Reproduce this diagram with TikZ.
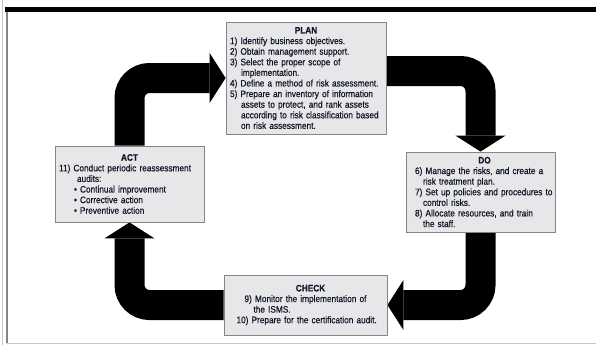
\documentclass[tikz,border=0pt]{standalone}
\usepackage{fontspec}
\setmainfont{Liberation Sans}[FakeStretch=0.88,FakeBold=0.4]
\usetikzlibrary{arrows.meta,backgrounds}
\definecolor{ismsInk}{HTML}{141428}
\definecolor{ismsFill}{HTML}{E6E7E9}
\definecolor{ismsEdge}{HTML}{858585}
\definecolor{ismsRule}{HTML}{C8C8C8}
\newcommand{\pdcaHead}[1]{\makebox[\dimexpr\linewidth-\leftskip\relax]{\bfseries #1}}
\tikzset{
  pdcaBox/.style={
    draw=ismsEdge,
    fill=ismsFill,
    line width=0.8pt,
    text=ismsInk,
    align=left,
    inner xsep=0pt,
    inner ysep=2pt,
    font=\fontsize{9.4}{10.6}\selectfont
  },
  pdcaIndent/.style={execute at begin node={\leftskip=#1}},
  pdcaArrow/.style={
    line width=30pt,
    rounded corners=20pt,
    -{Triangle[length=16pt,width=50pt,line width=0pt]}
  }
}

\begin{document}
\begin{tikzpicture}[x=1pt,y=-1pt]
  \useasboundingbox (0,0) rectangle (596,345);

  % page frame
  \draw[line width=4.5pt] (5,9.7) -- (596,9.7);
  \draw[ismsEdge, line width=1.2pt] (7,12) -- (7,343);
  \draw[ismsRule, line width=1pt] (2,0) -- (2,345);
  \draw[ismsRule, line width=1pt] (7,343) -- (596,343);

  \node[pdcaBox, text width=152pt, minimum width=160pt, minimum height=112pt]
    (plan) at (306,78) {\pdcaHead{PLAN}\\
      1) Identify business objectives.\\
      2) Obtain management support.\\
      3) Select the proper scope of\\
      \hspace*{11pt}implementation.\\
      \mbox{4) Define a method of risk assessment.}\\
      \mbox{5) Prepare an inventory of information}\\
      \hspace*{11pt}assets to protect, and rank assets\\
      \mbox{\hspace*{11pt}according to risk classification based}\\
      \hspace*{11pt}on risk assessment.};
  \node[pdcaBox, text width=141pt, minimum width=149pt, minimum height=76pt]
    (act) at (129.5,184) {\pdcaHead{ACT}\\
      11) Conduct periodic reassessment\\
      \hspace*{18pt}audits:\\
      \hspace*{15pt}\textbullet\ Continual improvement\\
      \hspace*{15pt}\textbullet\ Corrective action\\
      \hspace*{15pt}\textbullet\ Preventive action};
  \node[pdcaBox, pdcaIndent=8pt, text width=147pt, minimum width=149pt, minimum height=80pt]
    (do) at (480.5,192) {\pdcaHead{DO}\\
      \mbox{6) Manage the risks, and create a}\\
      \hspace*{8pt}risk treatment plan.\\
      \mbox{7) Set up policies and procedures to}\\
      \hspace*{8pt}control risks.\\
      8) Allocate resources, and train\\
      \hspace*{8pt}the staff.};
  \node[pdcaBox, pdcaIndent=10pt, text width=158pt, minimum width=163pt, minimum height=60pt]
    (check) at (305.5,305) {\pdcaHead{CHECK}\\
      \hspace*{8pt}9) Monitor the implementation of\\
      \hspace*{17pt}the ISMS.\\
      \mbox{10) Prepare for the certification audit.}};

  \begin{scope}[on background layer]
    \draw[pdcaArrow] (act.north) |- (plan.west);
    \draw[pdcaArrow] ([yshift=7pt]plan.east) -| (do.north);
    \draw[pdcaArrow] (do.south) |- (check.east);
    \draw[pdcaArrow] (check.west) -| (act.south);
  \end{scope}
\end{tikzpicture}
\end{document}
